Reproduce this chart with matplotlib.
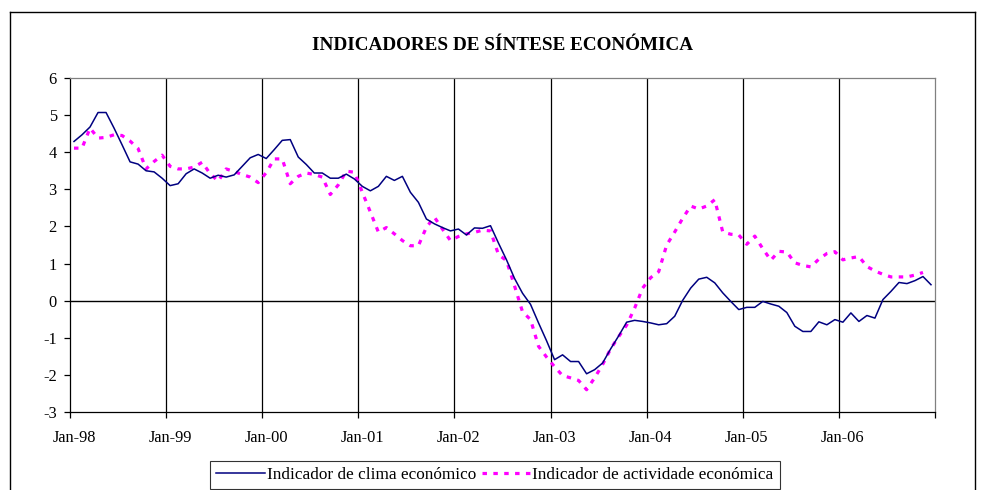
import numpy as np
import matplotlib.pyplot as plt
from matplotlib.lines import Line2D

plt.rcParams['font.family'] = ['Liberation Serif', 'DejaVu Serif']

# ---- dados mensais Jan-98 .. Dez-06 ----
clima = [
    4.29, 4.47, 4.68, 5.07, 5.07, 4.65, 4.20, 3.74, 3.68, 3.50, 3.47, 3.30,      # 1998
    3.10, 3.15, 3.42, 3.55, 3.44, 3.30, 3.38, 3.33, 3.39, 3.62, 3.85, 3.94,      # 1999
    3.83, 4.07, 4.32, 4.34, 3.87, 3.67, 3.44, 3.44, 3.30, 3.30, 3.41, 3.28,      # 2000
    3.08, 2.96, 3.08, 3.35, 3.24, 3.35, 2.92, 2.65, 2.20, 2.07, 1.97, 1.88,      # 2001
    1.93, 1.77, 1.96, 1.95, 2.02, 1.55, 1.10, 0.60, 0.20, -0.10, -0.60, -1.08,   # 2002
    -1.59, -1.46, -1.64, -1.64, -1.97, -1.86, -1.68, -1.30, -0.95, -0.58, -0.53, -0.56,  # 2003
    -0.60, -0.65, -0.62, -0.42, 0.01, 0.34, 0.58, 0.63, 0.48, 0.21, -0.02, -0.24,  # 2004
    -0.18, -0.18, -0.02, -0.09, -0.15, -0.32, -0.69, -0.83, -0.83, -0.57, -0.65, -0.51,  # 2005
    -0.58, -0.33, -0.56, -0.40, -0.47, 0.03, 0.25, 0.49, 0.46, 0.54, 0.65, 0.43,  # 2006
]

actividade = [
    4.11, 4.11, 4.65, 4.38, 4.40, 4.47, 4.45, 4.30, 4.10, 3.55, 3.75, 3.92,      # 1998
    3.62, 3.55, 3.55, 3.60, 3.73, 3.42, 3.22, 3.55, 3.48, 3.40, 3.33, 3.18,      # 1999
    3.45, 3.82, 3.82, 3.15, 3.35, 3.44, 3.40, 3.33, 2.86, 3.12, 3.49, 3.46,      # 2000
    2.92, 2.39, 1.85, 1.97, 1.80, 1.62, 1.48, 1.48, 1.98, 2.25, 1.93, 1.62,      # 2001
    1.73, 1.80, 1.84, 1.90, 1.88, 1.24, 1.08, 0.40, -0.30, -0.51, -1.23, -1.52,  # 2002
    -1.78, -2.02, -2.08, -2.15, -2.40, -2.08, -1.72, -1.30, -0.97, -0.66, -0.20, 0.34,  # 2003
    0.62, 0.78, 1.50, 1.85, 2.22, 2.55, 2.47, 2.55, 2.72, 1.85, 1.79, 1.77,      # 2004
    1.52, 1.74, 1.40, 1.09, 1.33, 1.31, 1.02, 0.95, 0.91, 1.12, 1.27, 1.32,      # 2005
    1.10, 1.15, 1.19, 0.92, 0.80, 0.71, 0.64, 0.64, 0.64, 0.69, 0.76, np.nan,    # 2006
]

anos = ['98', '99', '00', '01', '02', '03', '04', '05', '06']
rotulos_x = ['Jan-' + a for a in anos]
valores_y = list(range(-3, 7))

# ---- figura ----
W, H = 982, 490
fig = plt.figure(figsize=(W / 100, H / 100), dpi=100)
ax = fig.add_axes([70 / W, 1 - 412 / H, (935 - 70) / W, (412 - 78) / H])

meses = np.arange(len(clima)) + 0.5
ax.plot(meses, clima, color='#000080', lw=1.1, label='Indicador de clima económico', zorder=4)
ax.plot(meses, actividade, color='#ff00ff', lw=2.3, linestyle=(0, (1.4, 2.0)),
        dash_capstyle='butt', label='Indicador de actividade económica', zorder=3)

ax.set_xlim(0, len(clima))
ax.set_ylim(-3, 6)
ax.set_yticks(valores_y)
ax.set_yticklabels([str(v) for v in valores_y])

# marcas entre categorias, rotulos no centro de Janeiro
ax.set_xticks(range(0, len(clima) + 1, 12))
ax.set_xticklabels([])
ax.set_xticks([12 * k + 0.5 for k in range(len(anos))], rotulos_x, minor=True)
ax.tick_params(axis='x', which='major', length=4.5, width=0.9, direction='out')
ax.tick_params(axis='x', which='minor', length=0, pad=13, labelsize=11.8)
ax.tick_params(axis='y', length=4.5, width=0.9, direction='out', pad=5, labelsize=11.8)

for xv in range(12, len(clima), 12):
    ax.axvline(xv, color='black', lw=0.9, zorder=1)
ax.axhline(0, color='black', lw=1.0, zorder=2)

ax.spines['top'].set_color('#808080')
ax.spines['right'].set_color('#808080')
for s in ax.spines.values():
    s.set_linewidth(0.9)

fig.text(503 / W, 1 - 45 / H, 'INDICADORES DE SÍNTESE ECONÓMICA',
         ha='center', va='center', fontsize=13.8, fontweight='bold')

leg = fig.legend(loc='upper center', bbox_to_anchor=(495 / W, 1 - 461 / H), ncol=2,
                 frameon=True, fancybox=False, edgecolor='black', fontsize=12.4,
                 handlelength=2.8, handletextpad=0.15, columnspacing=0.3,
                 borderpad=0.35, borderaxespad=0)
leg.get_frame().set_linewidth(0.8)

# moldura exterior
for xs, ys in [([10, 10], [H, 12]), ([10, 975], [12, 12]), ([975, 975], [12, H])]:
    fig.add_artist(Line2D([x / W for x in xs], [1 - y / H for y in ys],
                          transform=fig.transFigure, color='black', lw=1.0))

fig.savefig('out.png', dpi=100)
